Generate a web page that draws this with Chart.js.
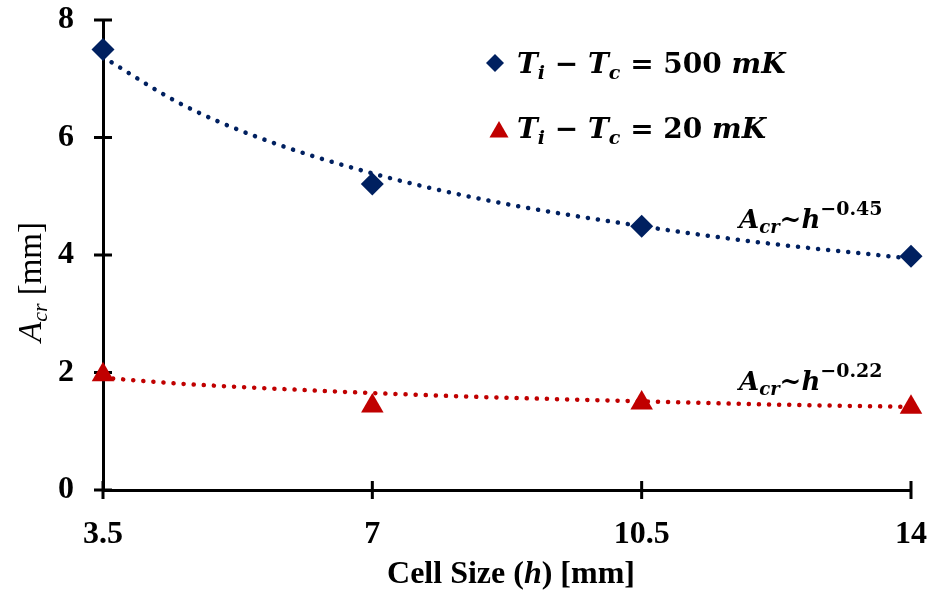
<!DOCTYPE html>
<html>
<head>
<meta charset="utf-8">
<script src="https://cdn.jsdelivr.net/npm/chart.js@4.4.0/dist/chart.umd.min.js"></script>
<style>
  html, body { margin: 0; background: #fff; }
  #wrap { width: 930px; height: 595px; }
</style>
</head>
<body>
<div id="wrap"><canvas id="c" width="930" height="595"></canvas></div>
<script>
// ── data ─────────────────────────────────────────────────────────────────
const cellSize = [3.5, 7, 10.5, 14];
const acr500   = [7.5, 5.21, 4.49, 3.98];
const acr20    = [1.96, 1.43, 1.48, 1.41];
// dotted power-law trend lines
const trendH   = [3.5, 4.5, 5.5, 7, 8.5, 10.5, 12, 14];
const trend500 = [7.37, 6.58, 6.01, 5.39, 4.93, 4.49, 4.22, 3.94];
const trend20  = [1.91, 1.81, 1.74, 1.65, 1.58, 1.51, 1.46, 1.415];
const xTicks   = [3.5, 7, 10.5, 14];
const yTicks   = [0, 2, 4, 6, 8];

const BLUE = '#002060', RED = '#C00000';
const TNR = '"Liberation Serif"', MATH = '"DejaVu Serif"';
const bi = s => `italic bold ${s}px ${MATH}`;
const bm = s => `bold ${s}px ${MATH}`;

const pts = (xs, ys) => xs.map((x, i) => ({ x, y: ys[i] }));

// draw a run of differently styled text pieces: [text, font, dy]
function drawRuns(ctx, runs, x, y, align) {
  let w = 0;
  runs.forEach(r => { ctx.font = r[1]; w += ctx.measureText(r[0]).width; });
  let cx = align === 'center' ? x - w / 2 : x;
  ctx.textAlign = 'left';
  ctx.textBaseline = 'alphabetic';
  runs.forEach(r => {
    ctx.font = r[1];
    ctx.fillText(r[0], cx, y + (r[2] || 0));
    cx += ctx.measureText(r[0]).width;
  });
  return w;
}

const crossTicks = {
  id: 'crossTicks',
  beforeDatasetsDraw(chart) {
    const { ctx, chartArea: a, scales: { x, y } } = chart;
    ctx.save();
    ctx.strokeStyle = '#000';
    ctx.lineWidth = 3;
    ctx.beginPath();
    yTicks.forEach(v => {
      const py = y.getPixelForValue(v);
      ctx.moveTo(a.left - 9, py); ctx.lineTo(a.left + 9, py);
    });
    xTicks.forEach(v => {
      const px = x.getPixelForValue(v);
      ctx.moveTo(px, a.bottom - 9); ctx.lineTo(px, a.bottom + 9);
    });
    ctx.stroke();
    ctx.restore();
  }
};

const labels = {
  id: 'labels',
  afterDraw(chart) {
    const { ctx } = chart;
    ctx.save();
    ctx.fillStyle = '#000';

    // axis titles
    drawRuns(ctx, [
      ['Cell Size (', `bold 32px ${TNR}`],
      ['h', `italic bold 32px ${TNR}`],
      [') [mm]', `bold 32px ${TNR}`]
    ], 511, 583, 'center');

    ctx.save();
    ctx.translate(41, 282);
    ctx.rotate(-Math.PI / 2);
    drawRuns(ctx, [
      ['A', `italic 33px ${TNR}`],
      ['cr', `italic 22px ${TNR}`, 6],
      [' [mm]', `33px ${TNR}`]
    ], 0, 0, 'center');
    ctx.restore();

    // legend
    const dp = Chart.helpers.drawPoint;
    ctx.fillStyle = BLUE;
    dp(ctx, { pointStyle: 'rectRot', radius: 9, borderWidth: 0 }, 495, 63);
    ctx.fillStyle = RED;
    dp(ctx, { pointStyle: 'triangle', radius: 11, borderWidth: 0 }, 499, 132);
    ctx.fillStyle = '#000';
    drawRuns(ctx, [
      ['T', bi(28)], ['i', bi(19), 6], [' − ', bm(28)],
      ['T', bi(28)], ['c', bi(19), 6], [' = ', bm(28)],
      ['500 ', bm(28)], ['mK', bi(28)]
    ], 517, 73);
    drawRuns(ctx, [
      ['T', bi(28)], ['i', bi(19), 6], [' − ', bm(28)],
      ['T', bi(28)], ['c', bi(19), 6], [' = ', bm(28)],
      ['20 ', bm(28)], ['mK', bi(28)]
    ], 517, 138);

    // trend annotations
    drawRuns(ctx, [
      ['A', bi(26)], ['cr', bi(18), 5], ['~', bm(26)],
      ['h', bi(26)], ['−0.45', bm(19), -13]
    ], 739, 228);
    drawRuns(ctx, [
      ['A', bi(26)], ['cr', bi(18), 5], ['~', bm(26)],
      ['h', bi(26)], ['−0.22', bm(19), -13]
    ], 739, 390);
    ctx.restore();
  }
};

const dotted = { borderWidth: 4.5, borderDash: [0.1, 10], borderCapStyle: 'round',
  pointRadius: 0, showLine: true, fill: false, cubicInterpolationMode: 'monotone', clip: false };

new Chart(document.getElementById('c'), {
  type: 'scatter',
  data: { datasets: [
    { ...dotted, data: pts(trendH, trend500), borderColor: BLUE },
    { ...dotted, data: pts(trendH, trend20),  borderColor: RED },
    { data: pts(cellSize, acr500), pointStyle: 'rectRot', pointRadius: 11.5, borderWidth: 0,
      backgroundColor: BLUE, borderColor: BLUE, clip: false },
    { data: pts(cellSize, acr20), pointStyle: 'triangle', pointRadius: 13, borderWidth: 0,
      backgroundColor: RED, borderColor: RED, clip: false }
  ] },
  options: {
    responsive: false, animation: false, devicePixelRatio: 1,
    layout: { padding: { left: 0, right: 19, top: 20, bottom: 0 } },
    plugins: { legend: { display: false }, tooltip: { enabled: false } },
    scales: {
      x: {
        type: 'linear', min: 3.5, max: 14,
        afterBuildTicks: s => { s.ticks = xTicks.map(v => ({ value: v })); },
        afterFit: s => { s.height = 105; s.paddingLeft = 0; s.paddingRight = 0; },
        grid: { display: false, drawTicks: false },
        border: { display: true, color: '#000', width: 3 },
        ticks: { padding: 26, color: '#000', font: { family: 'Liberation Serif', size: 32, weight: 'bold' },
          maxRotation: 0, autoSkip: false, callback: v => String(v) }
      },
      y: {
        type: 'linear', min: 0, max: 8,
        afterBuildTicks: s => { s.ticks = yTicks.map(v => ({ value: v })); },
        afterFit: s => { s.width = 103; s.paddingTop = 0; s.paddingBottom = 0; },
        grid: { display: false, drawTicks: false },
        border: { display: true, color: '#000', width: 3 },
        ticks: { padding: 29, color: '#000', font: { family: 'Liberation Serif', size: 32, weight: 'bold' },
          callback: v => String(v) }
      }
    }
  },
  plugins: [crossTicks, labels]
});
</script>
</body>
</html>
